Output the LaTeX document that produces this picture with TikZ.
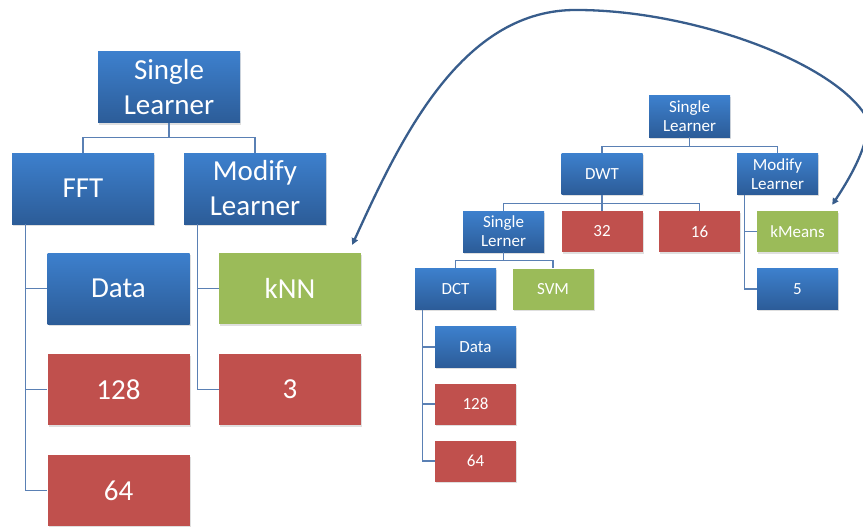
\documentclass[tikz,border=0pt]{standalone}
\usepackage{fontspec}
\setmainfont{Carlito}
\usetikzlibrary{arrows.meta,shadows}
\definecolor{bluetop}{RGB}{61,128,205}
\definecolor{bluebot}{RGB}{44,92,152}
\definecolor{boxred}{RGB}{192,80,77}
\definecolor{boxgreen}{RGB}{155,187,89}
\definecolor{linkblue}{RGB}{90,128,180}
\definecolor{arrowblue}{RGB}{56,93,140}
\tikzset{
  box/.style={inner sep=0pt, align=center, text=white,
    drop shadow={shadow xshift=1pt, shadow yshift=-1.5pt, opacity=0.25}},
  bigbox/.style={box, minimum width=142pt, minimum height=71pt,
    font=\fontsize{29}{35}\selectfont},
  smallbox/.style={box, minimum width=81pt, minimum height=41pt,
    font=\fontsize{17}{19}\selectfont},
  bluebox/.style={top color=bluetop, bottom color=bluebot},
  redbox/.style={fill=boxred},
  greenbox/.style={fill=boxgreen},
  link/.style={draw=linkblue, line width=1.1pt},
  swap/.style={draw=arrowblue, line width=2.3pt,
    {Triangle[length=6.5pt,width=6.5pt]}-{Triangle[length=6.5pt,width=6.5pt]}}
}
\begin{document}
\begin{tikzpicture}[x=1pt,y=-1pt]
\useasboundingbox (0,0) rectangle (863,527);

% ---- large tree ----
\node[bigbox,bluebox] (L0) at (169,87.5)  {Single\\Learner};
\node[bigbox,bluebox] (L1) at (83,188.5)  {FFT};
\node[bigbox,bluebox] (L2) at (255,188.5) {Modify\\Learner};
\node[bigbox,bluebox] (L3) at (118.5,288.5) {Data};
\node[bigbox,redbox]  (L4) at (118.5,389.5) {128};
\node[bigbox,redbox]  (L5) at (118.5,490.5) {64};
\node[bigbox,greenbox](L6) at (290,288.5) {kNN};
\node[bigbox,redbox]  (L7) at (290,389.5) {3};

\coordinate (j0) at ([yshift=-14pt]L0.south);
\draw[link] (L0.south) -- (j0) -| (L1.north);
\draw[link] (j0) -| (L2.north);
\coordinate (s1) at ([xshift=14pt]L1.south west);
\draw[link] (s1) |- (L3.west);
\draw[link] (s1) |- (L4.west);
\draw[link] (s1) |- (L5.west);
\coordinate (s2) at ([xshift=14pt]L2.south west);
\draw[link] (s2) |- (L6.west);
\draw[link] (s2) |- (L7.west);

% ---- small tree ----
\node[smallbox,bluebox] (R0) at (689.5,116.5) {Single\\Learner};
\node[smallbox,bluebox] (R1) at (602,174)   {DWT};
\node[smallbox,bluebox] (R2) at (777.5,174) {Modify\\Learner};
\node[smallbox,bluebox] (R3) at (503.5,231.5) {Single\\Lerner};
\node[smallbox,redbox]  (R4) at (602,231.5)   {32};
\node[smallbox,redbox]  (R5) at (699.5,231.5) {16};
\node[smallbox,greenbox](R6) at (797.5,231.5) {kMeans};
\node[smallbox,bluebox] (R7) at (797.5,289)   {5};
\node[smallbox,bluebox] (R8) at (455.5,289)   {DCT};
\node[smallbox,greenbox](R9) at (553,289)     {SVM};
\node[smallbox,bluebox] (R10) at (475.5,347) {Data};
\node[smallbox,redbox]  (R11) at (475.5,404) {128};
\node[smallbox,redbox]  (R12) at (475.5,461) {64};

\coordinate (k0) at ([yshift=-9pt]R0.south);
\draw[link] (R0.south) -- (k0) -| (R1.north);
\draw[link] (k0) -| (R2.north);
\coordinate (k1) at ([yshift=-9pt]R1.south);
\draw[link] (R1.south) -- (k1) -| (R3.north);
\draw[link] (k1) -- (R4.north);
\draw[link] (k1) -| (R5.north);
\coordinate (k3) at ([yshift=-8pt]R3.south);
\draw[link] (R3.south) -- (k3) -| (R8.north);
\draw[link] (k3) -| (R9.north);
\coordinate (t2) at ([xshift=8pt]R2.south west);
\draw[link] (t2) |- (R6.west);
\draw[link] (t2) |- (R7.west);
\coordinate (t8) at ([xshift=8pt]R8.south west);
\draw[link] (t8) |- (R10.west);
\draw[link] (t8) |- (R11.west);
\draw[link] (t8) |- (R12.west);

% ---- swap arrow between the two learners (runs off the right edge) ----
\coordinate (a1) at ([xshift=-9pt,yshift=8pt]L6.north east);
\coordinate (a2) at ([xshift=-6pt,yshift=6pt]R6.north east);
\coordinate (top) at (573,10);
\coordinate (rim) at (867,118);
\draw[swap] (a1) .. controls (400,140) and (460,12) .. (top)
  .. controls (690,9) and (835,62) .. (rim)
  .. controls (871,142) and (850,178) .. (a2);
\end{tikzpicture}
\end{document}
